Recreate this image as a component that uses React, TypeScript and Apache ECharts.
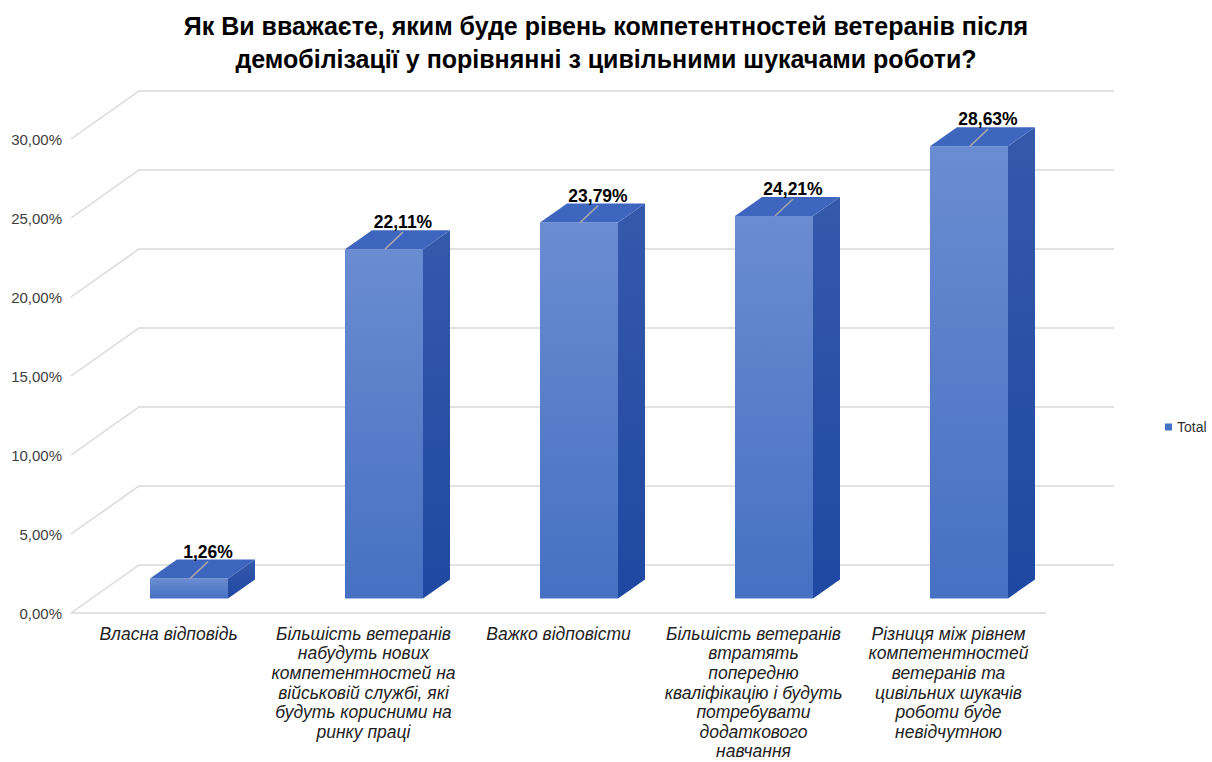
import React, { useEffect, useRef } from "react";
import * as echarts from "echarts";

const titleText =
  "Як Ви вважаєте, яким буде рівень компетентностей ветеранів після\nдемобілізації у порівнянні з цивільними шукачами роботи?";

const categories = [
  "Власна відповідь",
  "Більшість ветеранів\nнабудуть нових\nкомпетентностей на\nвійськовій службі, які\nбудуть корисними на\nринку праці",
  "Важко відповісти",
  "Більшість ветеранів\nвтратять\nпопередню\nкваліфікацію і будуть\nпотребувати\nдодаткового\nнавчання",
  "Різниця між рівнем\nкомпетентностей\nветеранів та\nцивільних шукачів\nроботи буде\nневідчутною",
];

const values = [1.26, 22.11, 23.79, 24.21, 28.63];

const yTicks = [0, 5, 10, 15, 20, 25, 30];

const seriesName = "Total";

const fmt = (v: number) => v.toFixed(2).replace(".", ",") + "%";

export default function App() {
  const ref = useRef<HTMLDivElement>(null);

  useEffect(() => {
    document.body.style.margin = "0";
    if (!ref.current) return;
    const chart = echarts.init(ref.current, null, { renderer: "svg" });

    const DEPTH_X = 68;
    const DEPTH_Y = 48;
    const BAR_DX = 27;
    const BAR_DY = 19;
    const OFF_X = 20.5;
    const OFF_Y = 14.5;
    const BAR_W = 78;
    const gridColor = "#d9d9d9";

    const option: any = {
      animation: false,
      backgroundColor: "#ffffff",
      title: {
        text: titleText,
        left: "center",
        top: 4,
        textStyle: {
          fontFamily: "Liberation Sans",
          fontWeight: "bold",
          fontSize: 25,
          lineHeight: 33,
          color: "#000000",
        },
      },
      legend: {
        data: [seriesName],
        orient: "vertical",
        left: 1160,
        top: 415,
        icon: "rect",
        itemWidth: 7,
        itemHeight: 7,
        itemGap: 4,
        textStyle: { fontFamily: "Liberation Sans", fontSize: 14, color: "#333333" },
      },
      grid: {
        left: 71,
        top: 139,
        width: 975,
        height: 474,
        containLabel: false,
        outerBoundsMode: "none",
      },
      xAxis: {
        type: "category",
        data: categories,
        boundaryGap: true,
        axisLine: { show: false },
        axisTick: { show: false },
        splitLine: { show: false },
        axisLabel: {
          interval: 0,
          margin: 11,
          fontFamily: "Liberation Sans",
          fontStyle: "italic",
          fontSize: 17.5,
          lineHeight: 19.6,
          color: "#222222",
          verticalAlign: "top",
        },
      },
      yAxis: {
        type: "value",
        min: 0,
        max: 30,
        interval: 5,
        axisLine: { show: false },
        axisTick: { show: false },
        splitLine: { show: false },
        axisLabel: {
          margin: 9,
          fontFamily: "Liberation Sans",
          fontSize: 15,
          color: "#404040",
          formatter: (v: number) => fmt(v),
        },
      },
      series: [
        {
          type: "custom",
          name: "grid3d",
          silent: true,
          z: 1,
          data: yTicks.map((t) => [0, t]),
          encode: { x: 0, y: 1 },
          renderItem: (params: any, api: any) => {
            const cs = params.coordSys;
            const v = api.value(1);
            const y = api.coord([0, v])[1];
            const x0 = cs.x;
            const x1 = cs.x + cs.width;
            const children: any[] = [
              {
                type: "polyline",
                shape: {
                  points: [
                    [x0, y],
                    [x0 + DEPTH_X, y - DEPTH_Y],
                    [x1 + DEPTH_X, y - DEPTH_Y],
                  ],
                },
                style: { stroke: gridColor, lineWidth: 1.5, fill: null },
              },
            ];
            if (v === 0) {
              children.push({
                type: "line",
                shape: { x1: x0, y1: y, x2: x1, y2: y },
                style: { stroke: gridColor, lineWidth: 1.5 },
              });
            }
            return { type: "group", children };
          },
        },
        {
          type: "custom",
          name: seriesName,
          z: 2,
          itemStyle: { color: "#4472c4" },
          data: values.map((v, i) => [i, v]),
          encode: { x: 0, y: 1 },
          renderItem: (params: any, api: any) => {
            const i = api.value(0);
            const v = api.value(1);
            const c = api.coord([i, v]);
            const b = api.coord([i, 0]);
            const cx = c[0] + OFF_X;
            const xl = cx - BAR_W / 2;
            const xr = cx + BAR_W / 2;
            const top = c[1] - OFF_Y;
            const bot = b[1] - OFF_Y;
            return {
              type: "group",
              children: [
                {
                  type: "polygon",
                  shape: {
                    points: [
                      [xr, top],
                      [xr + BAR_DX, top - BAR_DY],
                      [xr + BAR_DX, bot - BAR_DY],
                      [xr, bot],
                    ],
                  },
                  style: {
                    fill: new echarts.graphic.LinearGradient(0, 0, 0, 1, [
                      { offset: 0, color: "#3559ab" },
                      { offset: 1, color: "#1f48a2" },
                    ]),
                  },
                },
                {
                  type: "rect",
                  shape: { x: xl, y: top, width: BAR_W, height: bot - top },
                  style: {
                    fill: new echarts.graphic.LinearGradient(0, 0, 0, 1, [
                      { offset: 0, color: "#6a8cd1" },
                      { offset: 1, color: "#4670c2" },
                    ]),
                  },
                },
                {
                  type: "polygon",
                  shape: {
                    points: [
                      [xl, top],
                      [xr, top],
                      [xr + BAR_DX, top - BAR_DY],
                      [xl + BAR_DX, top - BAR_DY],
                    ],
                  },
                  style: { fill: "#3e66bf" },
                },
                {
                  type: "line",
                  shape: { x1: cx + 1, y1: top, x2: cx + 19, y2: top - 17 },
                  style: { stroke: "#a6a6a6", lineWidth: 1.5 },
                },
                {
                  type: "text",
                  style: {
                    x: cx + 19,
                    y: top - 27,
                    text: fmt(v),
                    align: "center",
                    verticalAlign: "middle",
                    fontFamily: "Liberation Sans",
                    fontWeight: "bold",
                    fontSize: 17.5,
                    fill: "#000000",
                  },
                },
              ],
            };
          },
        },
      ],
    };

    chart.setOption(option);
    return () => chart.dispose();
  }, []);

  return <div ref={ref} style={{ width: 1212, height: 762 }} />;
}
